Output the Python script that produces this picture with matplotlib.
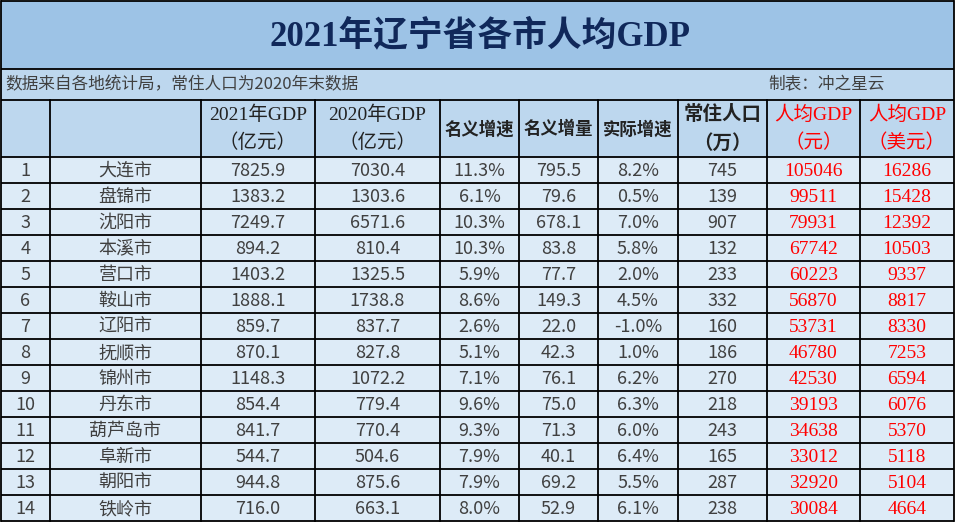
import matplotlib
matplotlib.use("Agg")
import matplotlib.pyplot as plt
from matplotlib.patches import Rectangle

plt.rcParams['font.family'] = ['Noto Sans CJK SC', 'DejaVu Sans']

# ---------------- данные таблицы
title = "2021年辽宁省各市人均GDP"
note_left = "数据来自各地统计局，常住人口为2020年末数据"
note_right = "制表：冲之星云"

headers = ["", "", "2021年GDP\n（亿元）", "2020年GDP\n（亿元）", "名义增速", "名义增量",
           "实际增速", "常住人口\n（万）", "人均GDP\n（元）", "人均GDP\n（美元）"]

cities = ["大连市", "盘锦市", "沈阳市", "本溪市", "营口市", "鞍山市", "辽阳市",
          "抚顺市", "锦州市", "丹东市", "葫芦岛市", "阜新市", "朝阳市", "铁岭市"]
gdp2021 = ["7825.9", "1383.2", "7249.7", "894.2", "1403.2", "1888.1", "859.7",
           "870.1", "1148.3", "854.4", "841.7", "544.7", "944.8", "716.0"]
gdp2020 = ["7030.4", "1303.6", "6571.6", "810.4", "1325.5", "1738.8", "837.7",
           "827.8", "1072.2", "779.4", "770.4", "504.6", "875.6", "663.1"]
nominal_rate = ["11.3%", "6.1%", "10.3%", "10.3%", "5.9%", "8.6%", "2.6%",
                "5.1%", "7.1%", "9.6%", "9.3%", "7.9%", "7.9%", "8.0%"]
nominal_inc = ["795.5", "79.6", "678.1", "83.8", "77.7", "149.3", "22.0",
               "42.3", "76.1", "75.0", "71.3", "40.1", "69.2", "52.9"]
real_rate = ["8.2%", "0.5%", "7.0%", "5.8%", "2.0%", "4.5%", "-1.0%",
             "1.0%", "6.2%", "6.3%", "6.0%", "6.4%", "5.5%", "6.1%"]
population = ["745", "139", "907", "132", "233", "332", "160",
              "186", "270", "218", "243", "165", "287", "238"]
per_cap_cny = ["105046", "99511", "79931", "67742", "60223", "56870", "53731",
               "46780", "42530", "39193", "34638", "33012", "32920", "30084"]
per_cap_usd = ["16286", "15428", "12392", "10503", "9337", "8817", "8330",
               "7253", "6594", "6076", "5370", "5118", "5104", "4664"]

# ---------------- разметка (в пикселях)
W, H = 956, 523
col_x = [1, 50, 201, 315, 440, 519, 598, 678, 767, 860, 954]
y_title = (1, 69)
y_note = (69, 100)
y_head = (100, 157)
row_h = 26

c_title = "#9DC3E6"
c_head = "#BDD7EE"
c_body = "#DDEBF7"
c_text = "#404040"
c_red = "#FF0000"

fig = plt.figure(figsize=(W / 100, H / 100), dpi=100)
ax = fig.add_axes([0, 0, 1, 1])
ax.set_xlim(0, W)
ax.set_ylim(H, 0)
ax.axis('off')

def box(x0, x1, y0, y1, color):
    ax.add_patch(Rectangle((x0, y0), x1 - x0, y1 - y0, facecolor=color, edgecolor='none'))

x_left, x_right = col_x[0], col_x[-1]
box(x_left, x_right, y_title[0], y_title[1], c_title)
box(x_left, x_right, y_note[0], y_note[1], c_head)
box(x_left, x_right, y_head[0], y_head[1], c_head)
y_end = y_head[1] + row_h * len(cities)
box(x_left, x_right, y_head[1], y_end, c_body)

# заголовок
ax.text(W / 2 + 2, sum(y_title) / 2 + 1, title, ha='center', va='center', fontsize=25,
        fontweight='bold', color='#10285A', family=['Liberation Serif', 'Noto Sans CJK SC'])
ax.text(5, sum(y_note) / 2, note_left, ha='left', va='center', fontsize=12, color=c_text)
ax.text(768, sum(y_note) / 2, note_right, ha='left', va='center', fontsize=12, color=c_text)

# шапка таблицы
for j, h in enumerate(headers):
    if not h:
        continue
    xc = (col_x[j] + col_x[j + 1]) / 2
    color = c_red if j >= 8 else '#222222'
    bold = 'bold' if j in (4, 5, 6, 7) else 'normal'
    lines = h.split("\n")
    if len(lines) == 1:
        ax.text(xc, sum(y_head) / 2 + 1, lines[0], ha='center', va='center', fontsize=12.5,
                color=color, fontweight=bold)
    else:
        for k, ln in enumerate(lines):
            ax.text(xc, 115 + k * 28, ln, ha='center', va='center', fontsize=14, color=color,
                    fontweight=bold, family=['Liberation Serif', 'Noto Sans CJK SC'])

# строки
columns = [[str(i + 1) for i in range(len(cities))], cities, gdp2021, gdp2020, nominal_rate,
           nominal_inc, real_rate, population, per_cap_cny, per_cap_usd]
for j, col in enumerate(columns):
    xc = (col_x[j] + col_x[j + 1]) / 2
    for i, val in enumerate(col):
        yc = y_head[1] + row_h * i + row_h / 2 + 1
        if j >= 8:
            ax.text(xc, yc, val, ha='center', va='center', fontsize=14, color=c_red,
                    family=['Liberation Serif'])
        else:
            ax.text(xc, yc, val, ha='center', va='center', fontsize=13, color=c_text)

# линии сетки
lw = 1.3
for y in [y_title[0], y_title[1], y_note[1], y_head[1]] + [y_head[1] + row_h * i for i in range(1, len(cities) + 1)]:
    ax.plot([x_left, x_right], [y, y], color='black', lw=lw, solid_capstyle='butt')
ax.plot([x_left, x_left], [y_title[0], y_end], color='black', lw=lw)
ax.plot([x_right, x_right], [y_title[0], y_end], color='black', lw=lw)
for x in col_x[1:-1]:
    ax.plot([x, x], [y_head[0], y_end], color='black', lw=lw)

fig.savefig("out.png", dpi=100)
